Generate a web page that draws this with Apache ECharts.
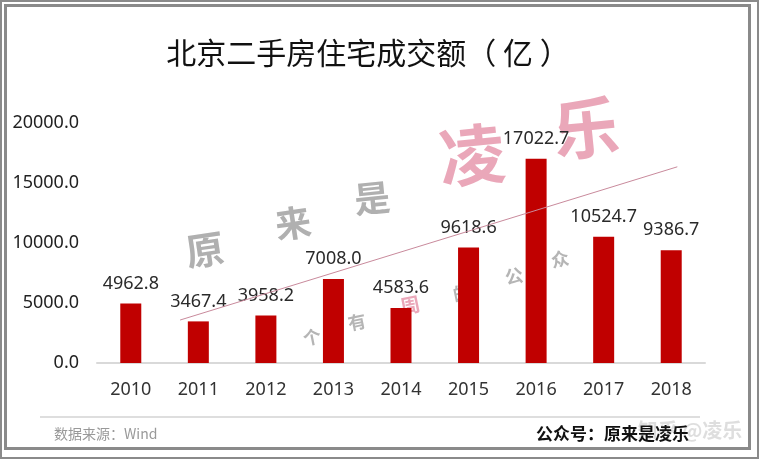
<!DOCTYPE html>
<html><head><meta charset="utf-8">
<script src="https://cdn.jsdelivr.net/npm/echarts@6/dist/echarts.min.js"></script>
<style>html,body{margin:0;padding:0;background:#fff}#c{width:760px;height:460px}</style>
</head><body><div id="c"></div>
<script>
const years = ['2010','2011','2012','2013','2014','2015','2016','2017','2018'];
const amounts = [4962.8, 3467.4, 3958.2, 7008.0, 4583.6, 9618.6, 17022.7, 10524.7, 9386.7];
const yTicks = [0, 5000, 10000, 15000, 20000];
// hand-drawn trend line endpoints: [category position, value]
const trendX = [0.73, 8.09];
const trendY = [3580, 16350];
const titleText = '北京二手房住宅成交额（ 亿 ）';
const sourceText = '数据来源：Wind';
const accountText = '公众号：原来是凌乐';

const chart = echarts.init(document.getElementById('c'), null, {renderer: 'canvas'});
const cjk = '"Noto Sans CJK SC", "Noto Sans", sans-serif';
const num = '"Noto Sans", "DejaVu Sans", sans-serif';

function wm(text, x, y, size, color, rot) {
  return {type: 'text', x: x, y: y, rotation: rot || 0, z: 0, silent: true,
    style: {text: text, fill: color, font: 'bold ' + size + 'px ' + cjk, textAlign: 'center', textVerticalAlign: 'middle'}};
}

chart.setOption({
  animation: false,
  backgroundColor: '#fff',
  grid: {left: 97, right: 55, top: 123, bottom: 97},
  xAxis: [{
    type: 'category', data: years,
    axisLine: {lineStyle: {color: '#d9d9d9', width: 2}},
    axisTick: {show: false},
    axisLabel: {color: '#333', fontSize: 18, fontFamily: num, margin: 18}
  }, {
    type: 'value', min: -0.5, max: 8.5, show: false
  }],
  yAxis: {
    type: 'value', min: yTicks[0], max: yTicks[yTicks.length - 1], interval: yTicks[1] - yTicks[0],
    axisLine: {show: false}, axisTick: {show: false}, splitLine: {show: false},
    axisLabel: {color: '#222', fontSize: 18, fontFamily: num, margin: 18,
      formatter: v => v.toFixed(1)}
  },
  series: [{
    type: 'bar', data: amounts, barWidth: 21, z: 3,
    itemStyle: {color: '#C00000'},
    label: {show: true, position: 'top', distance: 11, color: '#2a2a2a', fontSize: 18, fontFamily: num,
      formatter: p => p.value.toFixed(1)}
  }, {
    type: 'line', xAxisIndex: 1, data: trendX.map((x, i) => [x, trendY[i]]),
    symbol: 'none', z: 4, lineStyle: {color: '#c98a9c', width: 1}
  }],
  graphic: [
    {type: 'rect', shape: {x: 1, y: 1, width: 757, height: 457}, style: {fill: null, stroke: '#8a8a8a', lineWidth: 2}, z: 10},
    {type: 'rect', shape: {x: 5.5, y: 5.5, width: 744, height: 443}, style: {fill: null, stroke: '#8a8a8a', lineWidth: 3}, z: 10},
    {type: 'text', x: 368, y: 53, style: {text: titleText, fill: '#111', font: '30px ' + cjk, textAlign: 'center', textVerticalAlign: 'middle'}},
    {type: 'line', shape: {x1: 40, y1: 417, x2: 700, y2: 417}, style: {stroke: '#bdbdbd', lineWidth: 1}},
    {type: 'text', x: 54, y: 434, style: {text: sourceText, fill: '#999', font: '14px ' + cjk, textVerticalAlign: 'middle'}},
    wm('知乎 @凌乐', 690, 430, 20, 'rgba(200,200,200,0.6)', 0),
    {type: 'text', x: 536, y: 434, z: 5, style: {text: accountText, fill: '#111', font: 'bold 17px ' + cjk, textVerticalAlign: 'middle'}},
    wm('原', 205, 250, 38, 'rgba(150,150,150,0.75)', 0.15),
    wm('来', 293, 223, 36, 'rgba(150,150,150,0.75)', 0.15),
    wm('是', 372, 198, 36, 'rgba(150,150,150,0.75)', 0.1),
    wm('凌', 472, 155, 66, 'rgba(225,130,155,0.7)', 0.1),
    wm('乐', 586, 128, 66, 'rgba(225,130,155,0.7)', 0.1),
    wm('个', 312, 337, 18, 'rgba(150,150,150,0.7)', 0.2),
    wm('有', 357, 322, 18, 'rgba(150,150,150,0.7)', 0.2),
    wm('周', 410, 305, 20, 'rgba(225,130,155,0.7)', 0.2),
    wm('的', 462, 293, 18, 'rgba(150,150,150,0.7)', 0.2),
    wm('公', 514, 276, 18, 'rgba(150,150,150,0.7)', 0.2),
    wm('众', 560, 259, 18, 'rgba(150,150,150,0.7)', 0.2)
  ]
});
</script></body></html>
